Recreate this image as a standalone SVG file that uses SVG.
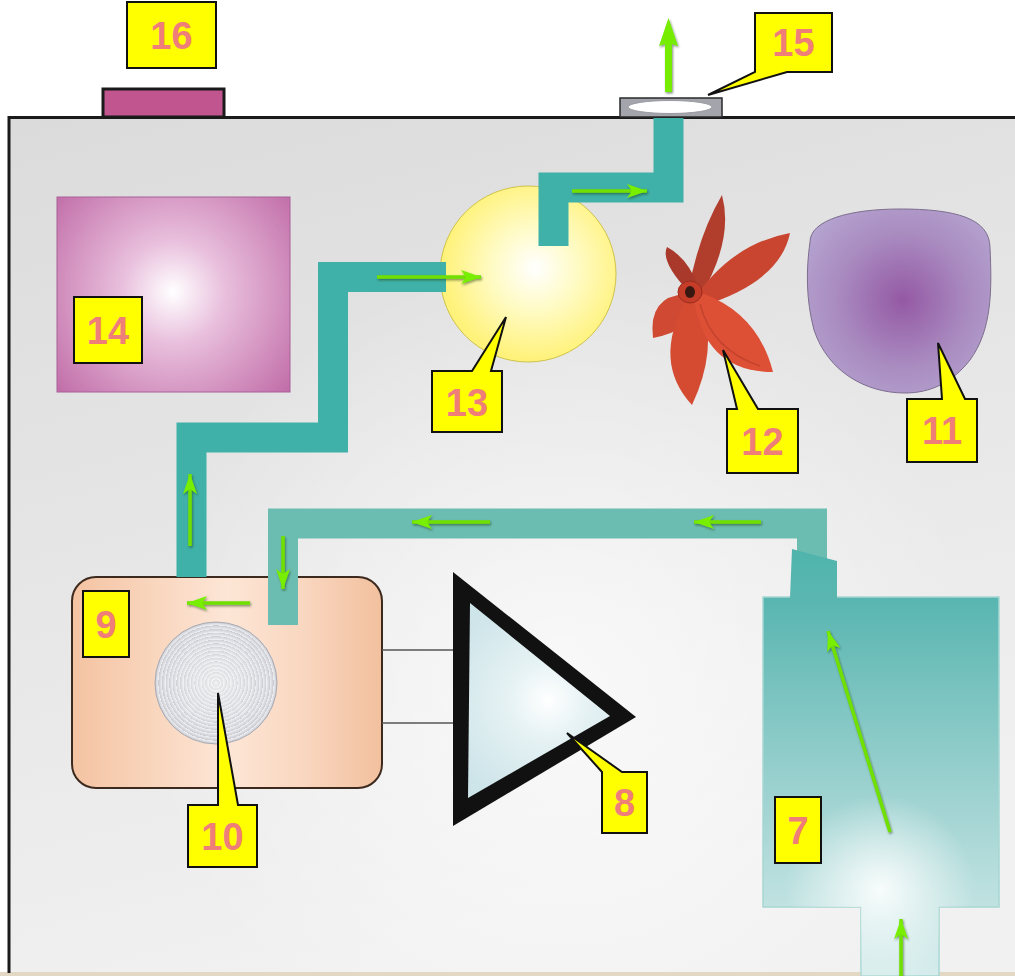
<svg xmlns="http://www.w3.org/2000/svg" width="1015" height="976" viewBox="0 0 1015 976">
  <defs>
    <style>
      .lbl { fill: #ffff00; stroke: #111; stroke-width: 2; stroke-linejoin: miter; }
      .num { font-family: "Liberation Sans", Arial, sans-serif; font-weight: bold; font-size: 38px; fill: #f07e78; text-anchor: middle; }
      .pipeA { fill: none; stroke: #40b1a8; stroke-width: 30; stroke-linejoin: miter; stroke-linecap: butt; }
      .pipeB { fill: none; stroke: #6cbdb1; stroke-width: 30; stroke-linejoin: miter; stroke-linecap: butt; }
      .flow { fill: none; stroke: #70e000; stroke-width: 3.5; marker-end: url(#head); filter: url(#shadow); }
      .wire { stroke: #555; stroke-width: 1.5; }
    </style>
    <marker id="head" markerUnits="userSpaceOnUse" markerWidth="22" markerHeight="14" refX="20" refY="7" orient="auto">
      <path d="M0,0 L20,7 L0,14 L5,7 Z" fill="#78ee00"/>
    </marker>
    <!-- user-space region so straight horizontal/vertical lines still render -->
    <filter id="shadow" filterUnits="userSpaceOnUse" x="0" y="0" width="1015" height="976">
      <feDropShadow dx="1" dy="1.5" stdDeviation="1" flood-color="#1a3a10" flood-opacity="0.55"/>
    </filter>
    <linearGradient id="bg" x1="0" y1="0" x2="0.3" y2="1">
      <stop offset="0" stop-color="#dbdbdb"/>
      <stop offset="1" stop-color="#f1f1f1"/>
    </linearGradient>
    <radialGradient id="bgGlow" cx="560" cy="680" r="420" gradientUnits="userSpaceOnUse">
      <stop offset="0" stop-color="#ffffff" stop-opacity="0.7"/>
      <stop offset="1" stop-color="#ffffff" stop-opacity="0"/>
    </radialGradient>
    <radialGradient id="g14" cx="173" cy="292" r="150" gradientUnits="userSpaceOnUse">
      <stop offset="0" stop-color="#ffffff"/>
      <stop offset="0.35" stop-color="#e8bedc"/>
      <stop offset="1" stop-color="#c26fa9"/>
    </radialGradient>
    <radialGradient id="g13" cx="535" cy="268" r="92" gradientUnits="userSpaceOnUse">
      <stop offset="0" stop-color="#ffffff"/>
      <stop offset="0.45" stop-color="#fffbc6"/>
      <stop offset="1" stop-color="#fff27a"/>
    </radialGradient>
    <radialGradient id="g11" cx="903" cy="300" r="110" gradientUnits="userSpaceOnUse">
      <stop offset="0" stop-color="#9459a4"/>
      <stop offset="0.6" stop-color="#a98bc0"/>
      <stop offset="1" stop-color="#b4a2cf"/>
    </radialGradient>
    <linearGradient id="g9" x1="72" y1="0" x2="382" y2="0" gradientUnits="userSpaceOnUse">
      <stop offset="0" stop-color="#f4c3a2"/>
      <stop offset="0.5" stop-color="#fde6d6"/>
      <stop offset="0.75" stop-color="#f9d6bf"/>
      <stop offset="1" stop-color="#f2c09e"/>
    </linearGradient>
    <radialGradient id="rings" cx="216" cy="683" r="3.6" gradientUnits="userSpaceOnUse" spreadMethod="repeat">
      <stop offset="0" stop-color="#eeeef2"/>
      <stop offset="0.5" stop-color="#d9dadf"/>
      <stop offset="1" stop-color="#c6c8cf"/>
    </radialGradient>
    <radialGradient id="g10sheen" cx="216" cy="683" r="62" gradientUnits="userSpaceOnUse">
      <stop offset="0" stop-color="#ffffff" stop-opacity="0.5"/>
      <stop offset="1" stop-color="#ffffff" stop-opacity="0"/>
    </radialGradient>
    <radialGradient id="g8" cx="548" cy="700" r="110" gradientUnits="userSpaceOnUse">
      <stop offset="0" stop-color="#ffffff"/>
      <stop offset="0.35" stop-color="#e6f2f4"/>
      <stop offset="1" stop-color="#cde4e9"/>
    </radialGradient>
    <linearGradient id="g7" x1="0" y1="597" x2="0" y2="976" gradientUnits="userSpaceOnUse">
      <stop offset="0" stop-color="#58b5b0"/>
      <stop offset="0.5" stop-color="#9bd1cf"/>
      <stop offset="1" stop-color="#d6ecec"/>
    </linearGradient>
    <radialGradient id="g7glow" cx="880" cy="890" r="95" gradientUnits="userSpaceOnUse">
      <stop offset="0" stop-color="#ffffff" stop-opacity="0.9"/>
      <stop offset="1" stop-color="#ffffff" stop-opacity="0"/>
    </radialGradient>
    <linearGradient id="gNozzle" x1="0" y1="549" x2="0" y2="598" gradientUnits="userSpaceOnUse">
      <stop offset="0" stop-color="#4fb4ac"/>
      <stop offset="1" stop-color="#5ab7b0"/>
    </linearGradient>
  </defs>

  <!-- page -->
  <rect x="0" y="0" width="1015" height="976" fill="#ffffff"/>

  <!-- housing -->
  <g id="housing">
    <rect x="9" y="117" width="1006" height="856" fill="url(#bg)"/>
    <rect x="9" y="117" width="1006" height="856" fill="url(#bgGlow)"/>
    <rect x="0" y="972" width="1015" height="4" fill="#e3d8c4"/>
    <path d="M9,973 L9,117.5 L1015,117.5" fill="none" stroke="#1a1a1a" stroke-width="3"/>
  </g>

  <!-- 16: top fitting -->
  <g id="node16">
    <rect x="103" y="89" width="121" height="28" fill="#c0558f" stroke="#1a1a1a" stroke-width="3"/>
  </g>

  <!-- 15: exhaust vent -->
  <g id="node15">
    <rect x="620" y="98" width="102" height="19" fill="#a3a4ac" stroke="#2a2a2a" stroke-width="1.5"/>
    <ellipse cx="670" cy="107" rx="42" ry="6.5" fill="#ffffff" stroke="#9a9aa0" stroke-width="1"/>
  </g>

  <!-- 14 -->
  <g id="node14">
    <rect x="57" y="197" width="233" height="195" fill="url(#g14)" stroke="#a8609a" stroke-width="1"/>
  </g>

  <!-- 11 -->
  <g id="node11">
    <path d="M810,242 C810,220 850,209 900,209 C955,209 990,218 990,248 C992,290 992,330 970,360 C952,383 930,393 905,393 C866,393 828,372 814,330 C806,300 806,270 810,242 Z" fill="url(#g11)" stroke="#7d6d8e" stroke-width="1"/>
  </g>

  <!-- 12: fan -->
  <g id="node12">
    <path d="M688,293 Q698,236 722,195 Q734,240 700,297 Z" fill="#b13d2d"/>
    <path d="M690,293 Q660,262 667,247 Q688,258 699,288 Z" fill="#a9392b"/>
    <path d="M692,302 Q730,244 790,233 Q780,282 702,306 Z" fill="#c9452f"/>
    <path d="M686,294 Q648,296 653,338 Q694,330 698,302 Z" fill="#d04a33"/>
    <path d="M686,300 Q652,362 692,405 Q718,350 702,302 Z" fill="#d44b32"/>
    <path d="M694,298 Q704,372 773,372 Q758,314 704,294 Z" fill="#de5036"/>
    <path d="M700,304 Q712,350 760,366" fill="none" stroke="#b23a28" stroke-width="1.5" opacity="0.6"/>
    <ellipse cx="690" cy="292" rx="12" ry="11" fill="#c53c28" stroke="#9a2d1e" stroke-width="1"/>
    <ellipse cx="690" cy="292" rx="5" ry="6" fill="#3a1812"/>
  </g>

  <!-- 13 -->
  <g id="node13">
    <circle cx="528" cy="274" r="88" fill="url(#g13)" stroke="#cfc24a" stroke-width="1"/>
  </g>

  <!-- 9 with 10 -->
  <g id="node9">
    <rect x="72" y="577" width="310" height="211" rx="24" ry="24" fill="url(#g9)" stroke="#3d2a1e" stroke-width="2"/>
  </g>
  <g id="node10">
    <circle cx="216" cy="683" r="61" fill="url(#rings)" stroke="#a8aab2" stroke-width="1"/>
    <circle cx="216" cy="683" r="61" fill="url(#g10sheen)"/>
  </g>

  <!-- 8 -->
  <g id="node8">
    <polygon points="453,572 636,717 453,826" fill="#111111"/>
    <polygon points="470,603 610,716 468,798" fill="url(#g8)"/>
  </g>

  <!-- 7 -->
  <g id="node7">
    <path d="M763,597 L999,597 L999,907 L939,907 L939,976 L861,976 L861,907 L763,907 Z" fill="url(#g7)" stroke="#a6d6d2" stroke-width="1.5"/>
    <path d="M763,597 L999,597 L999,907 L939,907 L939,976 L861,976 L861,907 L763,907 Z" fill="url(#g7glow)"/>
  </g>

  <!-- connectors: ducts, wires, flow arrows -->
  <g id="connectors">
    <line class="wire" x1="382" y1="650" x2="453" y2="650"/>
    <line class="wire" x1="382" y1="723" x2="453" y2="723"/>

    <polyline class="pipeA" points="191.5,577 191.5,437.5 333,437.5 333,277 446,277"/>
    <polyline class="pipeA" points="553.5,246 553.5,187.5 668.5,187.5 668.5,118"/>

    <polyline class="pipeB" points="283,625 283,523.5 812,523.5 812,560"/>
    <polygon points="792,549 837,561 837,598 790,598" fill="url(#gNozzle)"/>

    <path d="M665,92 L665,44 L659,46 L668.5,18 L678,46 L672,44 L672,92 Z" fill="#76ec00" filter="url(#shadow)"/>
    <line class="flow" x1="572" y1="191" x2="647" y2="191"/>
    <line class="flow" x1="377" y1="277" x2="481" y2="277"/>
    <line class="flow" x1="190" y1="546" x2="190" y2="474"/>
    <line class="flow" x1="490" y1="522" x2="412" y2="522"/>
    <line class="flow" x1="761" y1="522" x2="694" y2="522"/>
    <line class="flow" x1="283" y1="536" x2="283" y2="589"/>
    <line class="flow" x1="250" y1="603" x2="187" y2="603"/>
    <line class="flow" x1="890" y1="832" x2="828" y2="631"/>
    <line class="flow" x1="901" y1="976" x2="901" y2="919"/>
  </g>

  <!-- number tags -->
  <g id="tag16"><rect class="lbl" x="127" y="2" width="89" height="66"/><text class="num" x="171.5" y="49">16</text></g>
  <g id="tag15"><path class="lbl" d="M755,13 L832,13 L832,72 L787,72 L708,95 L755,72 Z"/><text class="num" x="793.5" y="56">15</text></g>
  <g id="tag14"><rect class="lbl" x="74" y="297" width="68" height="66"/><text class="num" x="108" y="344">14</text></g>
  <g id="tag13"><path class="lbl" d="M432,371 L472,371 L506,317 L491,371 L502,371 L502,432 L432,432 Z"/><text class="num" x="467" y="416">13</text></g>
  <g id="tag12"><path class="lbl" d="M727,409 L737,409 L723,350 L758,409 L798,409 L798,473 L727,473 Z"/><text class="num" x="762.5" y="455">12</text></g>
  <g id="tag11"><path class="lbl" d="M907,399 L942,399 L938,343 L965,399 L977,399 L977,462 L907,462 Z"/><text class="num" x="942" y="444">11</text></g>
  <g id="tag10"><path class="lbl" d="M188,805 L218,805 L218,693 L238,805 L257,805 L257,867 L188,867 Z"/><text class="num" x="222.5" y="850">10</text></g>
  <g id="tag9"><rect class="lbl" x="83" y="591" width="46" height="66"/><text class="num" x="106" y="638">9</text></g>
  <g id="tag8"><path class="lbl" d="M602,772 L567,733 L622,772 L647,772 L647,833 L602,833 Z"/><text class="num" x="624.5" y="816">8</text></g>
  <g id="tag7"><rect class="lbl" x="775" y="797" width="46" height="66"/><text class="num" x="798" y="844">7</text></g>
</svg>
